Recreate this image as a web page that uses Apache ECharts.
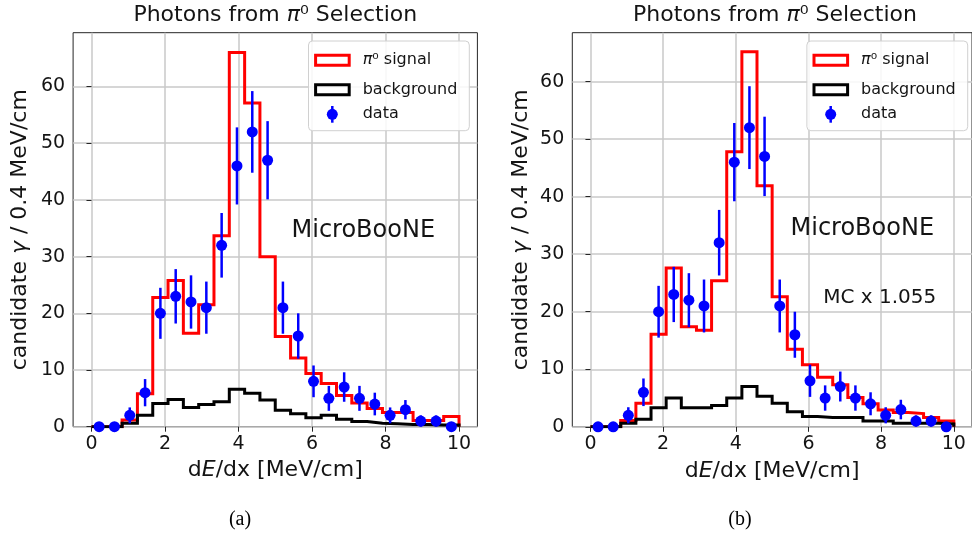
<!DOCTYPE html>
<html><head><meta charset="utf-8">
<script src="https://cdn.jsdelivr.net/npm/echarts@6/dist/echarts.min.js"></script>
<style>html,body{margin:0;padding:0;background:#fff}#c{width:972px;height:542px}</style>
</head><body><div id="c"></div>
<script>
// ---- data ----
const binEdges = [0, 0.417, 0.833, 1.25, 1.667, 2.083, 2.5, 2.917, 3.333, 3.75, 4.167, 4.583, 5, 5.417, 5.833, 6.25, 6.667, 7.083, 7.5, 7.917, 8.333, 8.75, 9.167, 9.583, 10];
const dataCounts = [0, 0, 2, 6, 20, 23, 22, 21, 32, 46, 52, 47, 21, 16, 8, 5, 7, 5, 4, 2, 3, 1, 1, 0];
const dataErrors = [0, 0, 1.4, 2.4, 4.5, 4.8, 4.7, 4.6, 5.7, 6.8, 7.2, 6.9, 4.6, 4.0, 2.8, 2.2, 2.6, 2.2, 2.0, 1.4, 1.7, 1.0, 1.0, 0];
const signalA = [0, 0, 1.2, 5.8, 22.8, 25.8, 16.5, 21.5, 33.7, 66.0, 57.1, 30.0, 15.9, 12.1, 9.4, 7.6, 5.5, 4.2, 3.2, 2.5, 2.5, 1.1, 1.1, 1.8];
const backgroundA = [0, 0, 0.6, 2.0, 4.1, 4.8, 3.4, 3.9, 4.4, 6.6, 5.9, 4.7, 2.9, 2.3, 1.6, 2.0, 1.3, 0.9, 0.6, 0.5, 0.4, 0.4, 0.3, 0.3];
const signalB = [0, 0, 1.1, 4.1, 16.1, 27.6, 17.4, 16.8, 25.4, 47.8, 65.2, 41.9, 22.6, 13.5, 10.8, 8.6, 7.3, 5.1, 4.0, 2.9, 2.5, 2.3, 1.6, 1.0];
const backgroundB = [0, 0, 0.6, 1.3, 3.3, 5.0, 3.3, 3.3, 3.7, 5.0, 7.0, 5.3, 4.1, 2.6, 1.8, 1.6, 1.6, 1.6, 1.0, 1.0, 0.6, 0.6, 0.6, 0.5];
const xTicks = [0, 2, 4, 6, 8, 10];
const yTicks = [0, 10, 20, 30, 40, 50, 60];
const panelTitle = 'Photons from {i|π}⁰ Selection';
const xName = 'd{i|E}/dx [MeV/cm]';
const yName = 'candidate {i|γ} / 0.4 MeV/cm';
const legendNames = ['{i|π}⁰ signal', 'background', 'data'];
const captions = ['(a)', '(b)'];
const scaleNote = 'MC x 1.055';
const expName = 'MicroBooNE';

// ---- helpers ----
const FONT = 'DejaVu Sans';
const TXT = '#141414';
const binCenters = dataCounts.map((_, i) => (binEdges[i] + binEdges[i + 1]) / 2);
function stepPoints(vals) {
  const pts = [[binEdges[0], 0]];
  vals.forEach((v, i) => pts.push([binEdges[i], v]));
  pts.push([binEdges[binEdges.length - 1], vals[vals.length - 1]]);
  pts.push([binEdges[binEdges.length - 1], 0]);
  return pts;
}
const errData = binCenters.map((x, i) => [x, dataCounts[i], dataErrors[i]]);
const ptData = binCenters.map((x, i) => [x, dataCounts[i]]);
const italic = (size) => ({ i: { fontStyle: 'italic', fontFamily: FONT, fontSize: size, color: TXT } });

const grids = [
  { left: 73.1, top: 32.7, width: 404.3, height: 394 },
  { left: 572.3, top: 32.7, width: 405.4, height: 394.1 }
];
const yMax = [69.5, 68.5];
const sig = [signalA, signalB];
const bkg = [backgroundA, backgroundB];

function xAxisFor(g) {
  return {
    gridIndex: g, type: 'value', min: -0.5, max: 10.5,
    axisLine: { show: false },
    axisTick: { show: true, length: 5, lineStyle: { color: '#262626', width: 1 }, customValues: xTicks },
    axisLabel: { customValues: xTicks, fontFamily: FONT, fontSize: 19, color: TXT, margin: 8 },
    splitLine: { show: true, lineStyle: { color: '#c8c8c8', width: 1.5 } },
    name: xName, nameLocation: 'middle', nameGap: 33,
    nameTextStyle: { fontFamily: FONT, fontSize: 22, color: TXT, rich: italic(22) }
  };
}
function yAxisFor(g) {
  return {
    gridIndex: g, type: 'value', min: 0, max: yMax[g],
    axisLine: { show: false },
    axisTick: { show: true, length: 5, lineStyle: { color: '#262626', width: 1 }, customValues: yTicks },
    axisLabel: { customValues: yTicks, fontFamily: FONT, fontSize: 19, color: TXT, margin: 8 },
    splitLine: { show: true, lineStyle: { color: '#c8c8c8', width: 1.5 } },
    name: yName, nameLocation: 'middle', nameGap: g === 0 ? 42 : 40,
    nameTextStyle: { fontFamily: FONT, fontSize: 22, color: TXT, rich: italic(22) }
  };
}

const series = [];
[0, 1].forEach(g => {
  series.push({
    type: 'line', name: 'signal', xAxisIndex: g, yAxisIndex: g, step: 'end',
    data: stepPoints(sig[g]), symbol: 'none', z: 3,
    lineStyle: { color: '#ff0000', width: 3, join: 'miter' }
  });
  series.push({
    type: 'line', name: 'background', xAxisIndex: g, yAxisIndex: g, step: 'end',
    data: stepPoints(bkg[g]), symbol: 'none', z: 4,
    lineStyle: { color: '#000000', width: 3, join: 'miter' }
  });
  series.push({
    type: 'custom', name: 'data', xAxisIndex: g, yAxisIndex: g, z: 5,
    data: errData,
    renderItem: (params, api) => {
      const x = api.value(0), y = api.value(1), e = api.value(2);
      if (!e) return null;
      const p1 = api.coord([x, y - e]), p2 = api.coord([x, y + e]);
      return { type: 'line', shape: { x1: p1[0], y1: p1[1], x2: p2[0], y2: p2[1] },
               style: { stroke: '#0000ff', lineWidth: 2.5 } };
    }
  });
  series.push({
    type: 'scatter', name: 'data', xAxisIndex: g, yAxisIndex: g, z: 6, clip: true,
    data: ptData, symbol: 'circle', symbolSize: 11,
    itemStyle: { color: '#0000ff', opacity: 1 }
  });
});

function legendGroup(dx) {
  const el = [];
  el.push({ type: 'rect', z: 100, shape: { x: 308.5 + dx, y: 41, width: 160.8, height: 89.7, r: 4 },
            style: { fill: 'rgba(255,255,255,0.85)', stroke: '#d0d0d0', lineWidth: 1 } });
  el.push({ type: 'rect', z: 101, shape: { x: 315.6 + dx, y: 55.3, width: 33.6, height: 10 },
            style: { fill: 'none', stroke: '#ff0000', lineWidth: 3 } });
  el.push({ type: 'rect', z: 101, shape: { x: 315.6 + dx, y: 84.8, width: 33.6, height: 10 },
            style: { fill: 'none', stroke: '#000000', lineWidth: 3 } });
  el.push({ type: 'line', z: 101, shape: { x1: 332.3 + dx, y1: 106, x2: 332.3 + dx, y2: 122.7 },
            style: { stroke: '#0000ff', lineWidth: 2.5 } });
  el.push({ type: 'circle', z: 102, shape: { cx: 332.3 + dx, cy: 114.3, r: 5.5 }, style: { fill: '#0000ff' } });
  const ys = [60.3, 89.6, 113.6];
  legendNames.forEach((t, i) => {
    el.push({ type: 'text', z: 102, x: 362.7 + dx, y: ys[i],
      style: { text: t, fontFamily: FONT, fontSize: 16, fill: TXT, align: 'left', verticalAlign: 'middle',
               rich: { i: { fontStyle: 'italic', fontFamily: FONT, fontSize: 16, color: TXT } } } });
  });
  return el;
}

const graphics = [].concat(legendGroup(0), legendGroup(498.4), [
  { type: 'text', z: 50, x: 363.3, y: 231, style: { text: expName, fontFamily: FONT, fontSize: 24, fill: TXT, align: 'center', verticalAlign: 'middle' } },
  { type: 'text', z: 50, x: 862.3, y: 229, style: { text: expName, fontFamily: FONT, fontSize: 24, fill: TXT, align: 'center', verticalAlign: 'middle' } },
  { type: 'text', z: 50, x: 879.7, y: 297.5, style: { text: scaleNote, fontFamily: FONT, fontSize: 20, fill: TXT, align: 'center', verticalAlign: 'middle' } }
]);

const option = {
  backgroundColor: '#ffffff',
  animation: false,
  title: [
    { text: panelTitle, left: 275.3, top: 4, textAlign: 'center', padding: 0,
      textStyle: { fontFamily: FONT, fontSize: 22, fontWeight: 'normal', color: TXT, rich: italic(22) } },
    { text: panelTitle, left: 775, top: 4, textAlign: 'center', padding: 0,
      textStyle: { fontFamily: FONT, fontSize: 22, fontWeight: 'normal', color: TXT, rich: italic(22) } },
    { text: captions[0], left: 240, top: 510, textAlign: 'center', padding: 0,
      textStyle: { fontFamily: 'Liberation Serif', fontSize: 20, fontWeight: 'normal', color: '#000' } },
    { text: captions[1], left: 740, top: 510, textAlign: 'center', padding: 0,
      textStyle: { fontFamily: 'Liberation Serif', fontSize: 20, fontWeight: 'normal', color: '#000' } }
  ],
  grid: grids.map(g => Object.assign({ show: true, borderColor: '#262626', borderWidth: 1, backgroundColor: 'transparent', containLabel: false }, g)),
  xAxis: [xAxisFor(0), xAxisFor(1)],
  yAxis: [yAxisFor(0), yAxisFor(1)],
  series: series,
  graphic: graphics
};
const chart = echarts.init(document.getElementById('c'), null, { renderer: 'canvas' });
chart.setOption(option);
</script></body></html>
